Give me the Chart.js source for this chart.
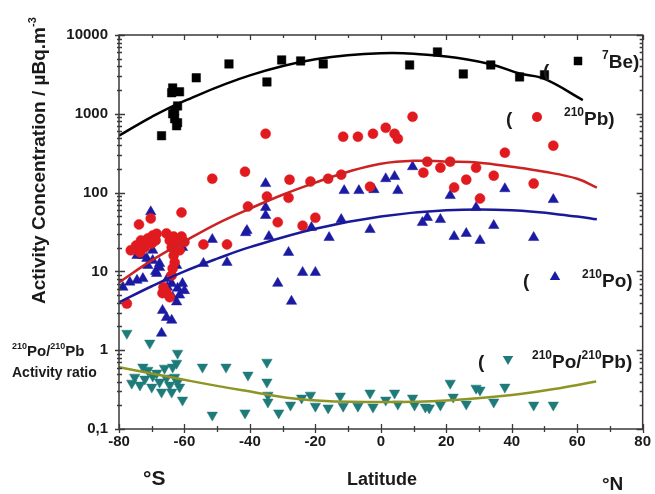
<!DOCTYPE html>
<html>
<head>
<meta charset="utf-8">
<script src="https://cdn.jsdelivr.net/npm/chart.js@4/dist/chart.umd.min.js"></script>
<style>
html,body{margin:0;padding:0;background:#fff;}
#wrap{width:655px;height:494px;}
</style>
</head>
<body>
<div id="wrap"><canvas id="c" width="655" height="494"></canvas></div>
<script>
// ---------- DATA (latitude in degrees, activity in µBq/m3, ratio dimensionless) ----------
const xTicks = [-80, -60, -40, -20, 0, 20, 40, 60, 80];
const yTicks = [0.1, 1, 10, 100, 1000, 10000];
const yTickLabels = ['0,1', '1', '10', '100', '1000', '10000'];

const beLat = [-67.0,-63.6,-61.5,-63.9,-63.0,-62.1,-63.6,-63.0,-62.4,-62.1,-56.4,-46.4,-34.8,-30.3,-24.5,-17.6,8.8,17.3,25.2,33.6,42.4,50.0];
const beVal = [527,2130,1900,1850,1090,1260,1000,865,705,770,2860,4300,2540,4830,4690,4300,4170,6100,3210,4170,2940,3120];

const pbLat = [-35.2,-51.5,-41.5,-60.9,-70.3,-73.9,-40.6,-34.8,-27.9,-28.2,-31.5,-21.5,-23.9,-20.0,-16.1,-12.1,-11.5,-7.0,-2.4,1.5,4.2,5.2,9.7,-3.3,13.0,52.7,37.9,14.2,21.2,18.2,29.1,34.5,26.1,22.4,46.7,30.3,-54.2,-47.0,-77.6,
  -76.4,-74.8,-73.3,-72.1,-71.2,-70.0,-69.7,-68.8,-73.6,-68.5,-65.5,-64.5,-63.3,-62.1,-60.9,-60.0,-63.9,-61.5,-63.3,-63.0,-63.6,-63.9,-66.4,-65.5,-64.5,-66.7];
const pbVal = [558,150,184,55.8,46.9,39.4,66.5,89,146,86,42,138,38,48,150,169,512,512,558,665,558,483,916,119,179,394,321,247,247,207,207,164,146,116,130,84,22,22,3.9,
  18.5,21.3,24.7,20.1,26.2,22.6,28.6,24.7,17.4,30,30.3,24.7,27.7,22.6,27.7,23.6,20.1,18.5,15.9,13.0,10.9,8.9,6.3,5.4,4.7,5.3];

const poLat = [-78.8,-76.7,-74.5,-74.5,-72.7,-72.7,-69.7,-71.5,-70.3,-71.2,-69.7,-68.5,-68.8,-67.6,-67.6,-67.0,-66.7,-65.5,-65.2,-65.2,-63.9,-63.9,-62.4,-62.4,-63.6,-62.1,-61.5,-61.5,-60.6,-60.6,-60.0,-54.2,-51.5,-47.0,
  -35.2,-35.2,-35.2,-40.9,-41.3,-34.2,-28.2,-31.5,-23.9,-20.0,-27.3,-15.8,-21.2,-12.1,-3.3,-11.2,-6.7,-2.1,1.5,4.2,5.2,9.7,12.7,21.2,37.9,52.7,29.1,14.2,18.2,34.5,22.4,26.1,30.3,46.7];
const poVal = [6.3,7.3,15.9,7.7,8.1,15.9,18.5,14.6,57,11.9,13.8,9.4,10.0,12.6,11.2,1.64,3.2,2.6,8.1,6.3,7.0,2.4,4.1,11.9,4.7,6.1,5.0,19.5,7.0,20.1,5.7,12.6,25.4,13,
  130,64.6,51.2,33,31,27.7,17.4,7.05,9.7,9.7,4.17,26.9,36.1,45.5,34,106,106,109,150,160,106,213,41.7,91.6,112,81.5,64.6,48.3,45.5,38.2,27.7,30.3,24.7,26.9];

const ratioLat = [-77.6,-70.6,-62.1,-54.5,-47.3,-40.6,-34.8,-34.8,-34.5,-34.5,-51.5,-41.5,-31.2,-60.6,-27.6,-24.2,-21.5,-20.0,-16.1,-12.4,-11.5,-7.0,-3.3,-2.4,
  -76.1,-73.6,-72.7,-71.2,-70.0,-68.5,-67.6,-67.0,-66.1,-65.5,-64.5,-63.9,-63.6,-63.0,-62.4,-62.1,-61.5,-72.1,-69.7,-75.2,
  1.5,4.2,5.2,9.7,10.3,13.6,14.8,18.2,21.2,22.1,26.1,29.1,30.3,34.5,37.9,46.7,52.7];
const ratioVal = [1.64,1.23,0.916,0.61,0.61,0.483,0.705,0.394,0.269,0.22,0.150,0.160,0.160,0.233,0.201,0.247,0.269,0.195,0.185,0.262,0.195,0.195,0.286,0.19,
  0.382,0.361,0.61,0.558,0.34,0.512,0.394,0.294,0.592,0.443,0.361,0.294,0.61,0.455,0.684,0.394,0.34,0.43,0.469,0.455,
  0.233,0.286,0.207,0.247,0.201,0.19,0.185,0.201,0.382,0.254,0.207,0.33,0.312,0.22,0.34,0.201,0.201];

// fitted curves
const beFitLat = [-80,-70,-60,-40,-20,0,20,33.6,42.4,50,61.7];
const beFitVal = [527,916,1460,3070,4910,5870,5340,4260,3240,2770,1490];
const pbFitLat = [-80,-70,-60,-50,-40,-30,-20,-10,0,10,20,30,40,50,60,66];
const pbFitVal = [7.26,13.8,24.0,40.5,62.7,94,134,184,233,254,247,240,213,184,150,116];
const poFitLat = [-80,-70,-60,-50,-40,-20,0,20,40,60,66];
const poFitVal = [4.05,6.48,10.0,14.5,20.3,34.8,49.7,59.5,59.5,49.8,45.8];
const ratioFitLat = [-80,-62.5,-42.3,-22,0,20,40,54.6,65.8];
const ratioFitVal = [0.61,0.44,0.31,0.233,0.22,0.23,0.27,0.33,0.40];

// ---------- STYLE ----------
const C_BE = '#000000', C_PB = '#e01a1f', C_PO = '#1a1aa3', C_RA = '#1f7a7a';
const C_PBLINE = '#cc2222', C_POLINE = '#1a1a99', C_RALINE = '#8f9424';
const FONT = '"Liberation Sans", Arial, sans-serif';

const zip = (xs, ys) => xs.map((x, i) => ({x: x, y: ys[i]}));

function pts(label, xs, ys, color, style, radius, rot) {
  return {type: 'scatter', label: label, data: zip(xs, ys), backgroundColor: color, borderColor: color,
    borderWidth: 0.5, pointStyle: style, pointRadius: radius, pointRotation: rot || 0, order: 2};
}
function fit(label, xs, ys, color) {
  return {type: 'line', label: label, data: zip(xs, ys), borderColor: color, borderWidth: 2.5,
    pointRadius: 0, tension: 0.4, fill: false, order: 0};
}

function symbol(ctx, style, x, y, r, color) {
  ctx.save();
  ctx.fillStyle = color;
  ctx.beginPath();
  if (style === 'rect') {
    const s = r * Math.SQRT1_2; ctx.rect(x - s, y - s, 2 * s, 2 * s);
  } else if (style === 'circle') {
    ctx.arc(x, y, r, 0, Math.PI * 2);
  } else if (style === 'up' || style === 'down') {
    const d = style === 'up' ? -1 : 1;
    ctx.moveTo(x, y + d * r);
    ctx.lineTo(x + r * Math.sin(2 * Math.PI / 3), y - d * r / 2);
    ctx.lineTo(x - r * Math.sin(2 * Math.PI / 3), y - d * r / 2);
    ctx.closePath();
  }
  ctx.fill();
  ctx.restore();
}

// draw text pieces: [text, size, dy]
function rich(ctx, x, y, parts, color) {
  ctx.save();
  ctx.fillStyle = color || '#1a1a1a';
  ctx.textBaseline = 'middle';
  ctx.textAlign = 'left';
  let cx = x;
  for (const p of parts) {
    ctx.font = 'bold ' + p[1] + 'px ' + FONT;
    ctx.fillText(p[0], cx, y + (p[2] || 0));
    cx += ctx.measureText(p[0]).width;
  }
  ctx.restore();
  return cx;
}

const decor = {
  id: 'decor',
  afterDatasetsDraw(chart) {
    const ctx = chart.ctx, a = chart.chartArea;
    const xs = chart.scales.x, ys = chart.scales.y;
    ctx.save();
    ctx.strokeStyle = '#3a3a3a';
    ctx.lineWidth = 1.5;
    ctx.strokeRect(a.left, a.top, a.right - a.left, a.bottom - a.top);
    ctx.lineWidth = 1.3;
    ctx.beginPath();
    // x ticks
    for (let v = -80; v <= 80; v += 10) {
      const px = Math.round(xs.getPixelForValue(v)) + 0.5;
      const major = v % 20 === 0;
      const len = major ? 5 : 3;
      ctx.moveTo(px, a.bottom + (major ? 4 : 3)); ctx.lineTo(px, a.bottom - len);
      ctx.moveTo(px, a.top); ctx.lineTo(px, a.top + len);
    }
    // y ticks
    for (const d of [0.1, 1, 10, 100, 1000, 10000]) {
      const py = Math.round(ys.getPixelForValue(d)) + 0.5;
      ctx.moveTo(a.left - 4, py); ctx.lineTo(a.left + 6, py);
      ctx.moveTo(a.right - 6, py); ctx.lineTo(a.right, py);
      if (d < 10000) {
        for (let k = 2; k <= 9; k++) {
          const q = Math.round(ys.getPixelForValue(d * k)) + 0.5;
          ctx.moveTo(a.left - 2, q); ctx.lineTo(a.left + 3, q);
          ctx.moveTo(a.right - 3, q); ctx.lineTo(a.right, q);
        }
      }
    }
    ctx.stroke();
    ctx.restore();

    // axis titles
    ctx.save();
    ctx.translate(40, 304);
    ctx.rotate(-Math.PI / 2);
    rich(ctx, 0, 0, [['Activity Concentration / \u00B5Bq.m', 19, 0], ['-3', 11, -7]]);
    ctx.restore();
    rich(ctx, 347, 480, [['Latitude', 18, 0]]);
    rich(ctx, 143, 479, [['\u00B0S', 21, 0]]);
    rich(ctx, 602, 485, [['\u00B0N', 19, 0]]);
    rich(ctx, 12, 352, [['210', 9, -5], ['Po/', 15, 0], ['210', 9, -5], ['Pb', 15, 0]]);
    rich(ctx, 12, 373, [['Activity ratio', 14, 0]]);

    // legend entries
    rich(ctx, 543, 72, [['(', 19, 0]]);
    symbol(ctx, 'rect', 578, 61, 6, C_BE);
    rich(ctx, 602, 63, [['7', 12, -7], ['Be)', 19, 0]]);

    rich(ctx, 506, 120, [['(', 19, 0]]);
    symbol(ctx, 'circle', 537, 117, 5, C_PB);
    rich(ctx, 564, 120, [['210', 12, -7], ['Pb)', 19, 0]]);

    rich(ctx, 523, 282, [['(', 19, 0]]);
    symbol(ctx, 'up', 555, 277, 6, C_PO);
    rich(ctx, 582, 282, [['210', 12, -7], ['Po)', 19, 0]]);

    rich(ctx, 478, 363, [['(', 19, 0]]);
    symbol(ctx, 'down', 508, 359, 6, C_RA);
    rich(ctx, 532, 363, [['210', 12, -7], ['Po/', 19, 0], ['210', 12, -7], ['Pb)', 19, 0]]);
  }
};

new Chart(document.getElementById('c'), {
  data: {
    datasets: [
      fit('7Be fit', beFitLat, beFitVal, '#000000'),
      fit('210Pb fit', pbFitLat, pbFitVal, C_PBLINE),
      fit('210Po fit', poFitLat, poFitVal, C_POLINE),
      fit('ratio fit', ratioFitLat, ratioFitVal, C_RALINE),
      pts('7Be', beLat, beVal, C_BE, 'rect', 6),
      pts('210Pb', pbLat, pbVal, C_PB, 'circle', 5),
      pts('210Po', poLat, poVal, C_PO, 'triangle', 6),
      pts('210Po/210Pb', ratioLat, ratioVal, C_RA, 'triangle', 6, 180)
    ]
  },
  options: {
    responsive: false,
    devicePixelRatio: 1,
    animation: false,
    layout: {padding: {left: 0, top: 35, right: 7, bottom: 0}},
    plugins: {legend: {display: false}, tooltip: {enabled: false}},
    scales: {
      x: {
        type: 'linear', position: 'bottom', min: -80, max: 80,
        afterBuildTicks: s => { s.ticks = xTicks.map(v => ({value: v})); },
        afterFit: s => { s.height = 65; },
        grid: {display: false, drawTicks: false},
        border: {display: false},
        ticks: {font: {family: FONT, size: 15, weight: 'bold'}, color: '#1a1a1a', padding: 4, maxRotation: 0,
          callback: v => String(v)}
      },
      y: {
        type: 'logarithmic', position: 'left', min: 0.1, max: 10000,
        afterBuildTicks: s => { s.ticks = yTicks.map(v => ({value: v})); },
        afterFit: s => { s.width = 119; },
        grid: {display: false, drawTicks: false},
        border: {display: false},
        ticks: {font: {family: FONT, size: 15, weight: 'bold'}, color: '#1a1a1a', padding: 11,
          callback: function(v) { const i = yTicks.indexOf(v); return i >= 0 ? yTickLabels[i] : ''; }}
      }
    }
  },
  plugins: [decor]
});
</script>
</body>
</html>
